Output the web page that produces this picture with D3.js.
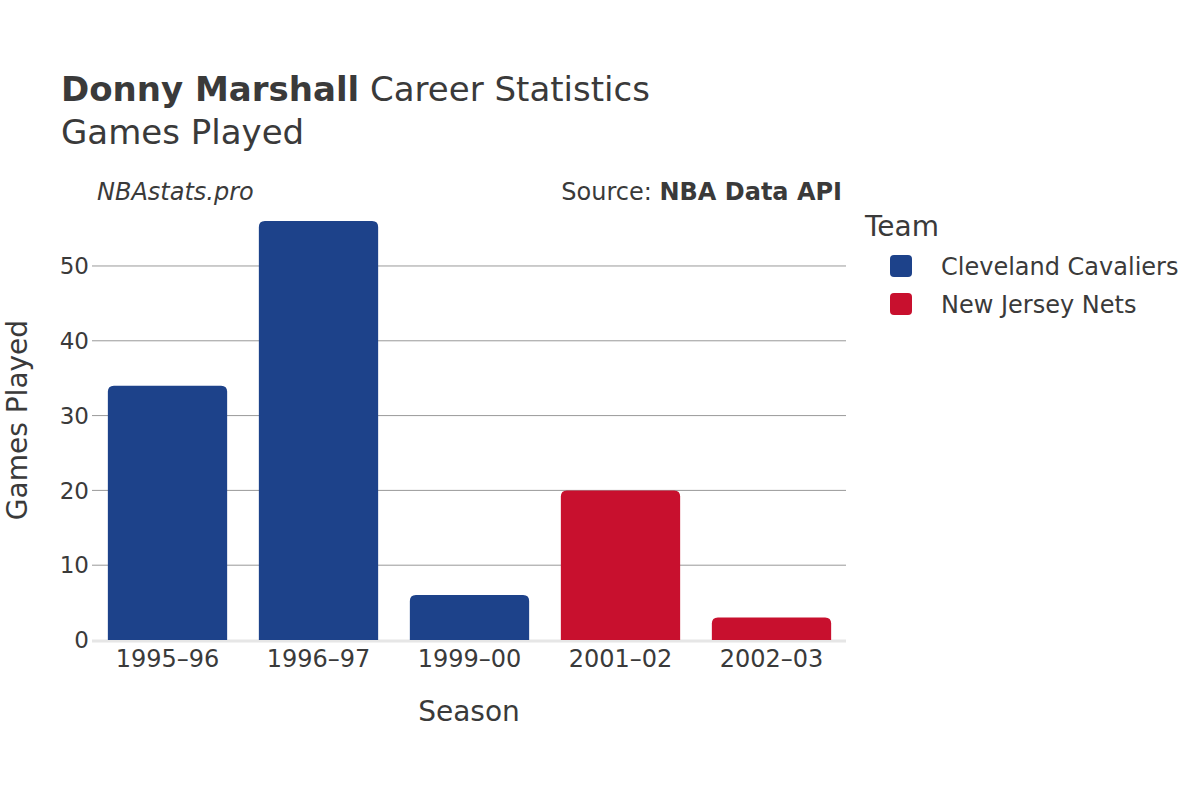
<!DOCTYPE html>
<html><head><meta charset="utf-8">
<script src="https://cdn.jsdelivr.net/npm/d3@7"></script>
<style>body{margin:0;background:#fff;}text{font-family:"DejaVu Sans",sans-serif;fill:#3a3a3a;}</style>
</head><body>
<svg id="c" width="1200" height="800"></svg>
<script>
const seasons = ["1995–96","1996–97","1999–00","2001–02","2002–03"];
const teams = ["Cleveland Cavaliers","Cleveland Cavaliers","Cleveland Cavaliers","New Jersey Nets","New Jersey Nets"];
const gamesPlayed = [34,56,6,20,3];
const teamNames = ["Cleveland Cavaliers","New Jersey Nets"];
const teamColors = ["#1d428a","#c8102e"];
const yTicks = [0,10,20,30,40,50];

const svg = d3.select("#c");
const x = d3.scaleBand().domain(seasons).range([92,847]).paddingInner(0.21).paddingOuter(0.105);
const y = d3.scaleLinear().domain([0,56]).range([640,221.1]);
const color = d3.scaleOrdinal().domain(teamNames).range(teamColors);

// grid
svg.append("g").selectAll("line").data(yTicks.filter(d=>d>0)).join("line")
  .attr("x1",92).attr("x2",846).attr("y1",d=>y(d)).attr("y2",d=>y(d))
  .attr("stroke","#999").attr("stroke-width",1);
// zero line
svg.append("line").attr("x1",92).attr("x2",846).attr("y1",y(0)+1).attr("y2",y(0)+1)
  .attr("stroke","#e6e6e6").attr("stroke-width",3);

// y tick labels
svg.append("g").selectAll("text").data(yTicks).join("text")
  .attr("x",89).attr("y",d=>y(d)).attr("dy","0.36em").attr("text-anchor","end")
  .style("font-size","23px").text(d=>d);

// bars with rounded top corners
const r = 6;
function barPath(x0,w,yt,yb){
  const rr = Math.min(r, (yb-yt), w/2);
  return `M${x0},${yb}V${yt+rr}Q${x0},${yt} ${x0+rr},${yt}H${x0+w-rr}Q${x0+w},${yt} ${x0+w},${yt+rr}V${yb}Z`;
}
svg.append("g").selectAll("path").data(seasons).join("path")
  .attr("d",(s,i)=>barPath(x(s),x.bandwidth(),y(gamesPlayed[i]),y(0)))
  .attr("fill",(s,i)=>color(teams[i]));

// x tick labels
svg.append("g").selectAll("text").data(seasons).join("text")
  .attr("x",s=>x(s)+x.bandwidth()/2).attr("y",667).attr("text-anchor","middle")
  .style("font-size","24px").text(s=>s);

// axis titles
svg.append("text").attr("x",469).attr("y",721).attr("text-anchor","middle").style("font-size","28px").text("Season");
svg.append("text").attr("transform","translate(27,420) rotate(-90)").attr("text-anchor","middle").style("font-size","28px").text("Games Played");

// titles
const t = svg.append("text").attr("x",61).attr("y",101).style("font-size","34px");
t.append("tspan").style("font-weight","bold").text("Donny Marshall");
t.append("tspan").text(" Career Statistics");
svg.append("text").attr("x",61).attr("y",144).style("font-size","34px").text("Games Played");

svg.append("text").attr("x",97).attr("y",200).style("font-size","24px").style("font-style","italic").text("NBAstats.pro");
const src = svg.append("text").attr("x",842).attr("y",200).attr("text-anchor","end").style("font-size","24px");
src.append("tspan").text("Source: ");
src.append("tspan").style("font-weight","bold").text("NBA Data API");

// legend
svg.append("text").attr("x",865).attr("y",236).style("font-size","28px").text("Team");
const lg = svg.append("g").selectAll("g").data(teamNames).join("g")
  .attr("transform",(d,i)=>`translate(890,${266+i*38})`);
lg.append("rect").attr("x",0).attr("y",-11).attr("width",22).attr("height",22).attr("rx",4).attr("fill",d=>color(d));
lg.append("text").attr("x",51).attr("y",0).attr("dy","0.36em").style("font-size","24px").text(d=>d);
</script>
</body></html>
